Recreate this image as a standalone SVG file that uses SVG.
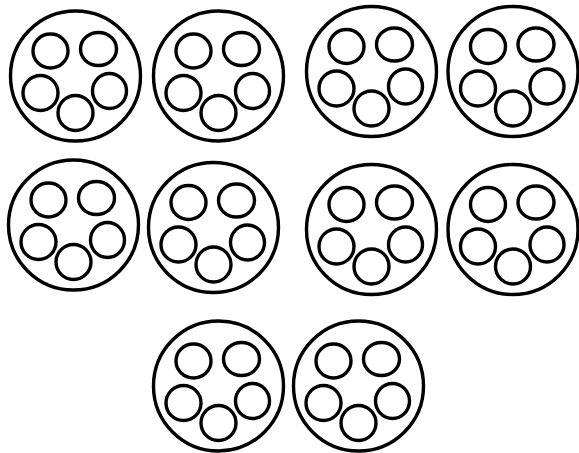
<svg xmlns="http://www.w3.org/2000/svg" xmlns:xlink="http://www.w3.org/1999/xlink" width="579" height="453" viewBox="0 0 579 453">
<style>
.c{fill:#fff;stroke:#000;stroke-width:3.4}
</style>
<defs>
<g id="plug">
<circle class="c" cx="0" cy="0" r="65"/>
<ellipse class="c" cx="-25" cy="-25" rx="17.5" ry="17"/>
<ellipse class="c" cx="23" cy="-27" rx="18" ry="16.5"/>
<ellipse class="c" cx="-35" cy="17" rx="17.5" ry="17.5"/>
<ellipse class="c" cx="34" cy="15" rx="17" ry="17.5"/>
<ellipse class="c" cx="0" cy="37" rx="17.5" ry="17.5"/>
</g>
</defs>
<rect width="579" height="453" fill="#fff"/>
<g id="node1"><use xlink:href="#plug" x="75.5" y="76"/></g>
<g id="node2"><use xlink:href="#plug" x="218.5" y="76"/></g>
<g id="node3"><use xlink:href="#plug" x="371.5" y="71.5"/></g>
<g id="node4"><use xlink:href="#plug" x="513" y="71.5"/></g>
<g id="node5"><use xlink:href="#plug" x="73.5" y="225"/></g>
<g id="node6"><use xlink:href="#plug" x="213.5" y="227.5"/></g>
<g id="node7"><use xlink:href="#plug" x="371.5" y="229.5"/></g>
<g id="node8"><use xlink:href="#plug" x="513" y="229.5"/></g>
<g id="node9"><use xlink:href="#plug" x="218.5" y="386"/></g>
<g id="node10"><use xlink:href="#plug" x="358.5" y="386"/></g>
<g id="connectors"></g>
</svg>
